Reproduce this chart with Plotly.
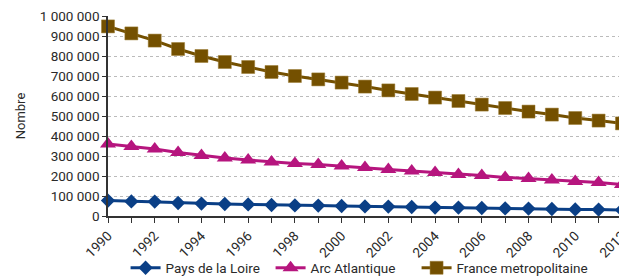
import plotly.graph_objects as go

years = list(range(1990, 2013))
pays_de_la_loire = [77000, 73000, 72000, 65000, 62000, 60000, 58000, 55000, 53000, 52000,
                    50000, 48000, 47000, 45000, 42000, 42000, 40000, 38000, 37000, 35000,
                    33000, 32000, 30000]
arc_atlantique = [360000, 347000, 335000, 317000, 303000, 290000, 280000, 270000, 263000, 257000,
                  250000, 243000, 233000, 225000, 218000, 208000, 202000, 193000, 187000, 180000,
                  173000, 167000, 158000]
france_metro = [948000, 913000, 877000, 835000, 800000, 770000, 745000, 720000, 700000, 683000,
                667000, 647000, 628000, 610000, 592000, 575000, 557000, 540000, 522000, 507000,
                490000, 477000, 463000]

y_tickvals = [0, 100000, 200000, 300000, 400000, 500000, 600000, 700000, 800000, 900000, 1000000]
y_ticktext = ["0", "100 000", "200 000", "300 000", "400 000", "500 000", "600 000",
              "700 000", "800 000", "900 000", "1 000 000"]

font = "Roboto, Arial, sans-serif"
txt = "#2a2a2a"
fig = go.Figure()
fig.add_trace(go.Scatter(x=years, y=pays_de_la_loire, name="Pays de la Loire", mode="lines+markers",
                         line=dict(color="#0A3F86", width=3),
                         marker=dict(symbol="diamond", size=11, color="#0A3F86"),
                         cliponaxis=False, legendwidth=100))
fig.add_trace(go.Scatter(x=years, y=arc_atlantique, name="Arc Atlantique", mode="lines+markers",
                         line=dict(color="#B6157E", width=3),
                         marker=dict(symbol="triangle-up", size=14, color="#B6157E"),
                         cliponaxis=False, legendwidth=101))
fig.add_trace(go.Scatter(x=years, y=france_metro, name="France metropolitaine", mode="lines+markers",
                         line=dict(color="#745000", width=3),
                         marker=dict(symbol="square", size=13, color="#745000",
                                     line=dict(color="#9A7A30", width=0.5)),
                         cliponaxis=False))

fig.update_layout(
    width=625, height=277,
    margin=dict(l=108, r=0, t=16, b=61, autoexpand=False),
    paper_bgcolor="white", plot_bgcolor="white",
    font=dict(family=font, size=14, color=txt),
    showlegend=True,
    legend=dict(orientation="h", x=0.034, xanchor="left", y=-0.26, yanchor="middle",
                bgcolor="rgba(0,0,0,0)",
                font=dict(size=13.5, color=txt), itemwidth=30, tracegroupgap=0),
)
fig.update_xaxes(range=[1990, 2012.13], tickmode="linear", tick0=1990, dtick=2, automargin=False,
                 tickangle=-45, showgrid=False, zeroline=False, ticklabeloverflow="allow",
                 showline=True, linecolor="#333333", linewidth=1.5,
                 ticks="outside", ticklen=5, tickcolor="#333333",
                 minor=dict(dtick=1, tick0=1990, ticks="outside", ticklen=5, tickcolor="#333333", showgrid=False),
                 tickfont=dict(size=13.5, color=txt))
fig.update_yaxes(range=[0, 1000000], tickvals=y_tickvals, ticktext=y_ticktext, automargin=False,
                 showgrid=True, gridcolor="#BBBBBB", griddash="dot", gridwidth=1,
                 zeroline=False, showline=True, linecolor="#333333", linewidth=1.5,
                 ticks="outside", ticklen=4, tickcolor="#333333",
                 title=dict(text="Nombre", font=dict(size=13, color=txt), standoff=11),
                 tickfont=dict(size=13.5, color=txt))

fig.write_html("out.html", config={"displayModeBar": False},
               post_script="document.body.style.margin='0';document.body.style.overflow='hidden';")
